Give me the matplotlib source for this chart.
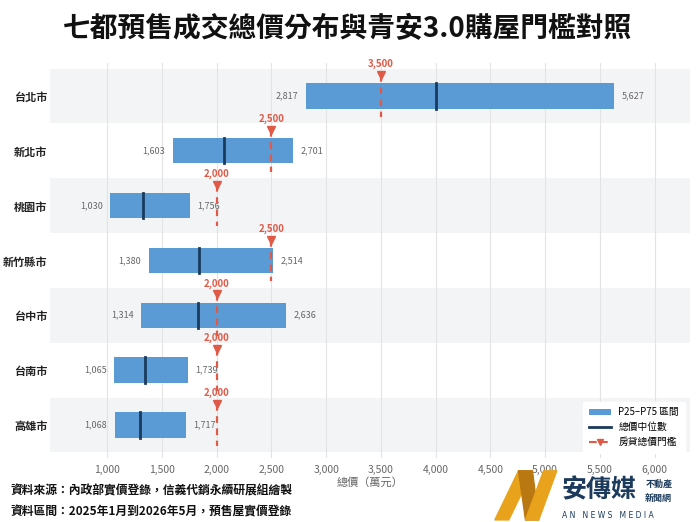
import matplotlib
matplotlib.use('Agg')
import matplotlib.pyplot as plt
from matplotlib.patches import Patch, Polygon
from matplotlib.lines import Line2D

plt.rcParams['font.family'] = ['Noto Sans CJK TC', 'DejaVu Sans']

cities = ['台北市', '新北市', '桃園市', '新竹縣市', '台中市', '台南市', '高雄市']
p25 = [2817, 1603, 1030, 1380, 1314, 1065, 1068]
p75 = [5627, 2701, 1756, 2514, 2636, 1739, 1717]
median = [4000, 2070, 1330, 1840, 1830, 1350, 1300]
threshold = [3500, 2500, 2000, 2500, 2000, 2000, 2000]
xticks = [1000, 1500, 2000, 2500, 3000, 3500, 4000, 4500, 5000, 5500, 6000]

bar_color = '#5B9BD5'
med_color = '#1B3A5C'
red = '#E05A47'
gray = '#666666'

fig = plt.figure(figsize=(6.96, 5.22), dpi=100)
ax = fig.add_axes([0.072, 0.123, 0.919, 0.756])

n = len(cities)
for i in range(n):
    # alternating row bands
    if i % 2 == 0:
        ax.axhspan(i - 0.5, i + 0.5, color='#F3F4F6', zorder=0, lw=0)
    ax.barh(i, p75[i] - p25[i], left=p25[i], height=0.46, color=bar_color, zorder=3)
    ax.plot([median[i], median[i]], [i - 0.23, i + 0.23], color=med_color, lw=2, zorder=4)
    ax.text(p25[i] - 70, i, f'{p25[i]:,}', ha='right', va='center', fontsize=6.5, color=gray, zorder=5)
    ax.text(p75[i] + 70, i, f'{p75[i]:,}', ha='left', va='center', fontsize=6.5, color=gray, zorder=5)
    # threshold
    ax.plot([threshold[i], threshold[i]], [i - 0.38, i + 0.38], color=red, lw=1.6,
            ls=(0, (3, 2.5)), zorder=5)
    ax.plot(threshold[i], i - 0.38, marker='v', color=red, ms=6, zorder=6)
    ax.text(threshold[i], i - 0.58, f'{threshold[i]:,}', ha='center', va='center',
            fontsize=7, color=red, fontweight='bold', zorder=6)

ax.set_xlim(480, 6320)
ax.set_ylim(n - 0.4, -0.6)
ax.set_yticks(range(n))
ax.set_yticklabels(cities, fontsize=8, fontweight='bold', color='#222222')
ax.set_xticks(xticks)
ax.set_xticklabels([f'{v:,}' for v in xticks], fontsize=7.5, color=gray)
ax.tick_params(axis='y', length=0, pad=2)
ax.tick_params(axis='x', length=0, pad=5)
ax.xaxis.grid(True, color='#E3E3E3', lw=0.8, zorder=1)
ax.set_axisbelow(True)
for s in ax.spines.values():
    s.set_visible(False)
ax.set_xlabel('總價（萬元）', fontsize=8, color=gray, labelpad=2)

handles = [
    Patch(facecolor=bar_color, label='P25–P75 區間'),
    Line2D([0], [0], color=med_color, lw=2, label='總價中位數'),
    Line2D([0], [0], color=red, lw=1.5, ls='--', marker='v', ms=5, label='房貸總價門檻'),
]
leg = ax.legend(handles=handles, loc='lower right', fontsize=7, frameon=True,
                framealpha=1, edgecolor='white', borderpad=0.6, handlelength=2.2)

fig.text(0.5, 0.945, '七都預售成交總價分布與青安3.0購屋門檻對照', ha='center', va='center',
         fontsize=20, fontweight='heavy', color='#111111')

fig.text(0.015, 0.06, '資料來源：內政部實價登錄，信義代銷永續研展組繪製', ha='left', va='center',
         fontsize=8.5, fontweight='bold', color='#111111')
fig.text(0.015, 0.02, '資料區間：2025年1月到2026年5月，預售屋實價登錄', ha='left', va='center',
         fontsize=8.5, fontweight='bold', color='#111111')

# logo
gold = '#E9A21C'
dgold = '#B97812'
logo = [
    ([(0.711, 0.004), (0.731, 0.004), (0.765, 0.098), (0.745, 0.098)], gold),
    ([(0.745, 0.098), (0.765, 0.098), (0.774, 0.004), (0.755, 0.004)], dgold),
    ([(0.755, 0.004), (0.774, 0.004), (0.800, 0.098), (0.781, 0.098)], gold),
]
for pts, c in logo:
    fig.patches.append(Polygon(pts, closed=True, transform=fig.transFigure, color=c))
fig.text(0.807, 0.060, '安傳媒', ha='left', va='center', fontsize=18, fontweight='heavy', color=med_color)
fig.text(0.927, 0.073, '不動產', ha='left', va='center', fontsize=6.5, fontweight='bold', color=med_color)
fig.text(0.927, 0.045, '新聞網', ha='left', va='center', fontsize=6.5, fontweight='bold', color=med_color)
fig.text(0.808, 0.013, 'A N   N E W S   M E D I A', ha='left', va='center', fontsize=5.5,
         color=med_color, family='DejaVu Sans')

fig.savefig('out.png', dpi=100, facecolor='white')
